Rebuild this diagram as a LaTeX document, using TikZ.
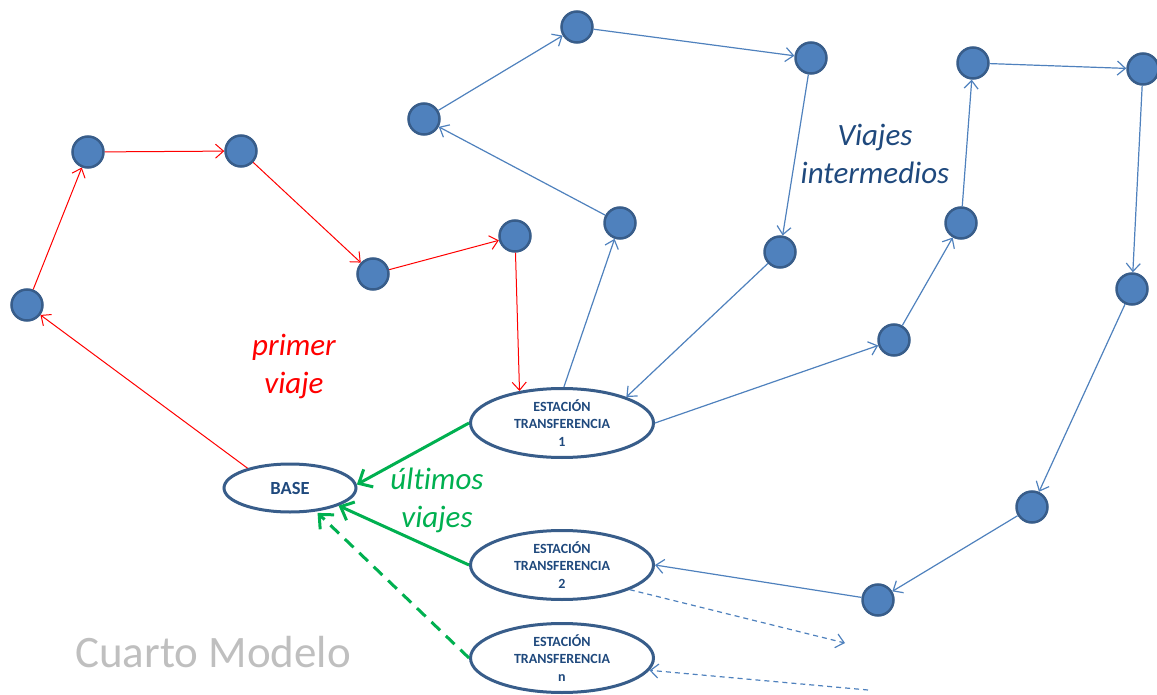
\documentclass[tikz,border=0pt]{standalone}
\usepackage{fontspec}
\setmainfont[Ligatures=NoCommon]{Carlito}
\usetikzlibrary{arrows.meta,shapes.geometric}
\definecolor{cfill}{HTML}{4F81BD}
\definecolor{cdraw}{HTML}{385D8A}
\definecolor{tblue}{HTML}{1F497D}
\definecolor{gr}{HTML}{00B050}
\definecolor{greytxt}{HTML}{BFBFBF}
\tikzset{
  stop/.style={circle, minimum size=31pt, inner sep=0pt, fill=cfill, draw=cdraw, line width=2.5pt},
  station/.style={ellipse, draw=cdraw, fill=white, line width=3pt, minimum width=183pt, minimum height=69pt, inner sep=0pt, align=center, text=tblue, font=\fontsize{14}{17.5}\selectfont\bfseries},
  basebox/.style={ellipse, draw=cdraw, fill=white, line width=3pt, minimum width=132pt, minimum height=48pt, inner sep=0pt, text=tblue, font=\fontsize{18.5}{20}\selectfont\bfseries},
  redarr/.style={draw=red, line width=1pt, -{Straight Barb[length=8pt,width=14pt]}},
  bluearr/.style={draw=cfill, line width=1.2pt, -{Straight Barb[length=8pt,width=14pt]}},
  bluedash/.style={bluearr, dash pattern=on 5pt off 4pt},
  greenarr/.style={draw=gr, line width=3pt, -{Straight Barb[length=11pt,width=20pt]}},
  greendash/.style={greenarr, dash pattern=on 12pt off 8pt},
  lbl/.style={align=center, font=\fontsize{31}{38}\selectfont\itshape, inner sep=0pt}
}
\begin{document}
\begin{tikzpicture}[x=1pt,y=-1pt]
\useasboundingbox (0,0) rectangle (1157,695);
% red path
\node[stop] (r1) at (27,305) {};
\node[stop] (r2) at (88,152) {};
\node[stop] (r3) at (241,151) {};
\node[stop] (r4) at (373,274) {};
\node[stop] (r5) at (515,236) {};
% blue path 1
\node[stop] (b1) at (620,223) {};
\node[stop] (b2) at (424,119) {};
\node[stop] (b3) at (577,27) {};
\node[stop] (b4) at (811,58) {};
\node[stop] (b5) at (780,252) {};
% blue path 2
\node[stop] (c1) at (894,340) {};
\node[stop] (c2) at (961,223) {};
\node[stop] (c3) at (973,63) {};
\node[stop] (c4) at (1143,69) {};
\node[stop] (c5) at (1132,289) {};
\node[stop] (c6) at (1032,507) {};
\node[stop] (c7) at (878,600) {};
% ellipses
\node[basebox] (base) at (290,488) {BASE};
\node[station] (e1) at (562,423) {ESTACIÓN\\TRANSFERENCIA\\1};
\node[station] (e2) at (562,565) {ESTACIÓN\\TRANSFERENCIA\\2};
\node[station] (e3) at (562,658) {ESTACIÓN\\TRANSFERENCIA\\n};
\coordinate (d1) at (845,643);
\coordinate (d2) at (868,690);
% red connectors
\draw[redarr] (base.155) -- (r1);
\draw[redarr] (r1) -- (r2);
\draw[redarr] (r2) -- (r3);
\draw[redarr] (r3) -- (r4);
\draw[redarr] (r4) -- (r5);
\draw[redarr] (r5) -- (e1.143);
% blue connectors
\draw[bluearr] (e1.87) -- (b1);
\draw[bluearr] (b1) -- (b2);
\draw[bluearr] (b2) -- (b3);
\draw[bluearr] (b3) -- (b4);
\draw[bluearr] (b4) -- (b5);
\draw[bluearr] (b5) -- (e1.22);
\draw[bluearr] (e1.east) -- (c1);
\draw[bluearr] (c1) -- (c2);
\draw[bluearr] (c2) -- (c3);
\draw[bluearr] (c3) -- (c4);
\draw[bluearr] (c4) -- (c5);
\draw[bluearr] (c5) -- (c6);
\draw[bluearr] (c6) -- (c7);
\draw[bluearr] (c7) -- (e2.east);
\draw[bluedash] (e2.-20) -- (d1);
\draw[bluedash] (d2) -- (e3.-8);
% green connectors
\draw[greenarr] (e1.west) -- (base.3);
\draw[greenarr] (e2.west) -- (base.-20);
\draw[greendash, shorten >=2pt] (e3.west) -- (base.-42);
% labels
\node[lbl, text=red] (t1) at (294,366) {primer\\viaje};
\node[lbl, text=tblue] (t2) at (875,154) {Viajes\\intermedios};
\node[lbl, text=gr] (t3) at (437,500) {últimos\\viajes};
\node[anchor=base west, inner sep=0pt, text=greytxt, font=\fontsize{45}{50}\selectfont] (t4) at (75,667) {Cuarto Modelo};
\end{tikzpicture}
\end{document}
